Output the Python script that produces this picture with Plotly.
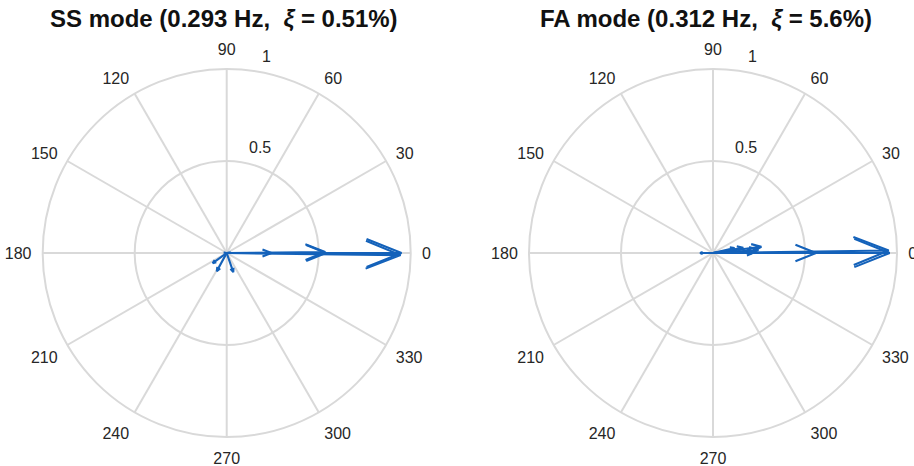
import math
import plotly.graph_objects as go

# Mode-shape phasors: magnitude (normalised) and phase angle in degrees
ss_mag = [0.95, 0.945, 0.54, 0.535, 0.243, 0.094, 0.113, 0.11, 0.02, 0.015]
ss_phase = [0.0, -0.7, 0.0, 0.6, 0.0, 216.0, 241.5, 289.0, 10.0, 170.0]

fa_mag = [0.96, 0.955, 0.56, 0.265, 0.247, 0.23, 0.167, 0.12, 0.07]
fa_phase = [0.0, 0.8, 0.0, 7.4, 3.8, 1.5, 10.0, 13.0, 180.0]

ss_title = "SS mode (0.293 Hz,  <i>ξ</i> = 0.51%)"
fa_title = "FA mode (0.312 Hz,  <i>ξ</i> = 5.6%)"

angle_ticks = list(range(0, 360, 30))
radial_ticks = [0.5, 1]
radial_labels = ["0.5", "1"]
radial_label_r = [0.6, 1.09]
radial_label_theta = [72.6, 78.6]

BLUE = "#1462BA"
GRID = "#D9D9D9"
TEXT = "#262626"
FONT = "Liberation Sans, Arial, sans-serif"

W, H = 914, 466
R = 184
centres = [(226.7, 253.0), (713.0, 253.0)]


def compass_path(mags, phases):
    """Build compass arrows (shaft + two barbs) as one polyline in polar coords."""
    rs, ts = [], []
    # arrow shape in the arrow's own frame, as in a classic compass plot
    xx = [0.0, 1.0, 0.8, 1.0, 0.8]
    yy = [0.0, 0.0, 0.08, 0.0, -0.08]
    for m, p in zip(mags, phases):
        a = math.radians(p)
        ca, sa = math.cos(a), math.sin(a)
        for u, v in zip(xx, yy):
            x = m * (u * ca - v * sa)
            y = m * (u * sa + v * ca)
            rs.append(math.hypot(x, y))
            ts.append(math.degrees(math.atan2(y, x)))
        rs.append(None)
        ts.append(None)
    return rs, ts


def dom(cx, cy):
    return dict(
        x=[(cx - R) / W, (cx + R) / W],
        y=[(H - cy - R) / H, (H - cy + R) / H],
    )


def polar_layout(cx, cy):
    return dict(
        domain=dom(cx, cy),
        bgcolor="white",
        radialaxis=dict(
            range=[0, 1], tickvals=radial_ticks, showticklabels=False,
            showline=False, ticks="", gridcolor=GRID, gridwidth=2,
        ),
        angularaxis=dict(
            rotation=0, direction="counterclockwise",
            tickvals=angle_ticks, ticktext=[str(a) for a in angle_ticks],
            showline=True, linecolor=GRID, linewidth=2,
            gridcolor=GRID, gridwidth=2,
            ticks="outside", ticklen=7, tickcolor="rgba(0,0,0,0)",
            tickfont=dict(family=FONT, size=16, color=TEXT),
        ),
    )


fig = go.Figure()
annotations = []

for name, (cx, cy), mags, phases in [
    ("polar", centres[0], ss_mag, ss_phase),
    ("polar2", centres[1], fa_mag, fa_phase),
]:
    r, t = compass_path(mags, phases)
    fig.add_trace(go.Scatterpolar(
        r=r, theta=t, mode="lines", subplot=name,
        line=dict(color=BLUE, width=2.1), connectgaps=False,
        hoverinfo="skip", showlegend=False, cliponaxis=False,
    ))
    # radial tick labels, placed beside the rings
    for lab, lr, lt in zip(radial_labels, radial_label_r, radial_label_theta):
        px = cx + lr * R * math.cos(math.radians(lt))
        py = cy - lr * R * math.sin(math.radians(lt))
        annotations.append(dict(
            text=lab, x=px / W, y=1 - py / H, xref="paper", yref="paper",
            showarrow=False, xanchor="center", yanchor="middle",
            font=dict(family=FONT, size=16, color=TEXT),
        ))

for title, tx in [(ss_title, 224), (fa_title, 706)]:
    annotations.append(dict(
        text=title, x=tx / W, y=1 - 18 / H, xref="paper", yref="paper",
        showarrow=False, xanchor="center", yanchor="middle",
        font=dict(family=FONT, size=24, color="#111111", weight="bold"),
    ))

fig.update_layout(
    width=W, height=H,
    margin=dict(l=0, r=0, t=0, b=0),
    paper_bgcolor="white",
    polar=polar_layout(*centres[0]),
    polar2=polar_layout(*centres[1]),
    annotations=annotations,
)

fig.write_html("out.html")
